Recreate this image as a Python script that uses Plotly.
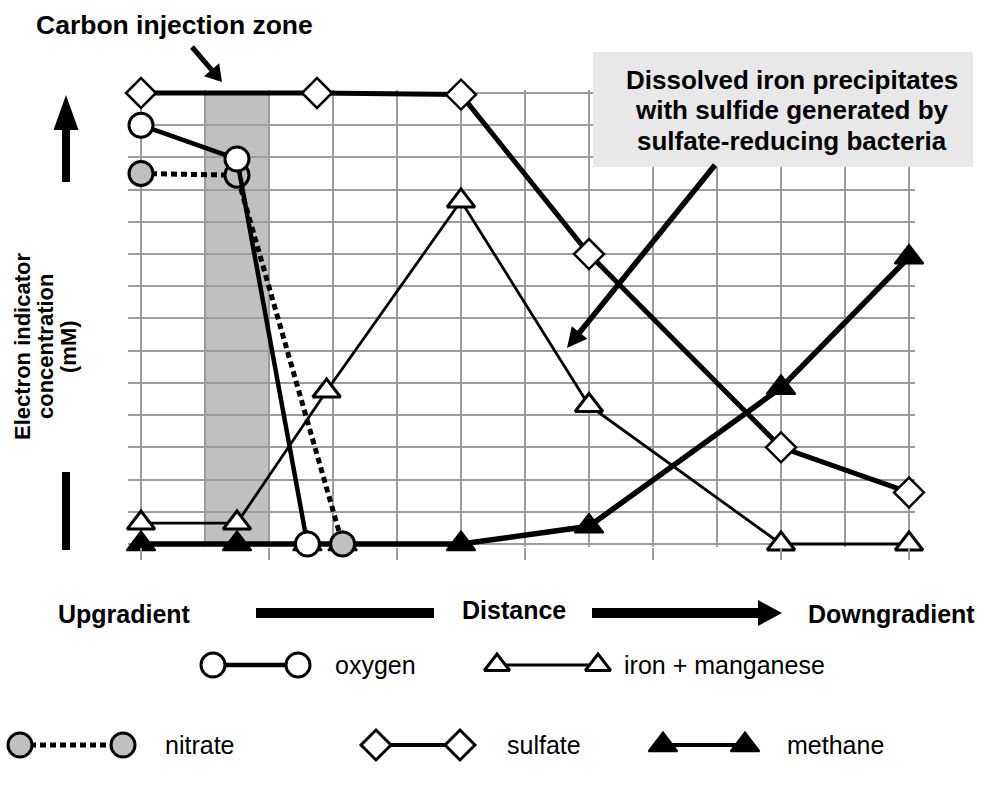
import math
import plotly.graph_objects as go

W, H = 986, 788

# distance along the flow path (grid units) and concentration (grid units)
oxygen_x = [0, 1.5, 2.6]
oxygen_y = [13, 11.95, 0]
nitrate_x = [0, 1.5, 3.15]
nitrate_y = [11.5, 11.45, 0]
iron_x = [0, 1.5, 2.9, 5, 7, 10, 12]
iron_y = [0.65, 0.65, 4.75, 10.65, 4.3, 0, 0]
sulfate_x = [0, 2.75, 5, 7, 10, 12]
sulfate_y = [14, 14, 13.95, 9, 3, 1.6]
methane_x = [0, 1.5, 2.6, 3.15, 5, 7, 10, 12]
methane_y = [0, 0, 0, 0, 0, 0.55, 4.85, 8.9]

injection_zone = [1, 2]
x_range = [-0.2, 12.1]
y_range = [-0.1, 14.1]

box_lines = ["Dissolved iron precipitates",
             "with sulfide generated by",
             "sulfate-reducing bacteria"]
ytitle_lines = ["Electron indicator", "concentration", "(mM)"]

GRID = "#9c9c9c"
FONT = "Arial, Liberation Sans, sans-serif"

# pixel geometry of the grid: x=0 -> 141px, x=12 -> 909px ; y=0 -> 544px, y=14 -> 93px
X0, XU = 141, 64.0
Y0, YU = 544, 451 / 14.0


def px(x):
    return x / W


def py(y):
    return 1 - y / H


def arrow(x0, y0, x1, y1, width, head_len=0, head_w=0):
    """thick line with a filled triangular head at (x1, y1), pixel coords"""
    dx, dy = x1 - x0, y1 - y0
    L = math.hypot(dx, dy)
    ux, uy = dx / L, dy / L
    bx, by = x1 - ux * head_len, y1 - uy * head_len
    ex, ey = (bx + ux, by + uy) if head_len else (x1, y1)
    out = [dict(type="line", xref="paper", yref="paper",
                x0=px(x0), y0=py(y0), x1=px(ex), y1=py(ey),
                line=dict(color="black", width=width), layer="above")]
    if head_len:
        nx, ny = -uy, ux
        p = "M {},{} L {},{} L {},{} Z".format(
            px(x1), py(y1),
            px(bx + nx * head_w / 2), py(by + ny * head_w / 2),
            px(bx - nx * head_w / 2), py(by - ny * head_w / 2))
        out.append(dict(type="path", xref="paper", yref="paper", path=p,
                        fillcolor="black", line=dict(width=0), layer="above"))
    return out


fig = go.Figure()

# data series (bottom to top)
fig.add_trace(go.Scatter(x=methane_x, y=methane_y, mode="lines+markers", name="methane",
                         line=dict(color="black", width=5.5),
                         marker=dict(symbol="triangle-up", size=25, color="black",
                                     line=dict(color="black", width=2)),
                         cliponaxis=False))
fig.add_trace(go.Scatter(x=iron_x, y=iron_y, mode="lines+markers", name="iron + manganese",
                         line=dict(color="black", width=2.8),
                         marker=dict(symbol="triangle-up", size=24, color="white",
                                     line=dict(color="black", width=3)),
                         cliponaxis=False))
fig.add_trace(go.Scatter(x=sulfate_x, y=sulfate_y, mode="lines+markers", name="sulfate",
                         line=dict(color="black", width=5),
                         marker=dict(symbol="diamond", size=23, color="white",
                                     line=dict(color="black", width=2.5)),
                         cliponaxis=False))
fig.add_trace(go.Scatter(x=nitrate_x, y=nitrate_y, mode="lines+markers", name="nitrate",
                         line=dict(color="black", width=5, dash="6px,4px"),
                         marker=dict(symbol="circle", size=24, color="#c0c0c0",
                                     line=dict(color="black", width=3)),
                         cliponaxis=False))
fig.add_trace(go.Scatter(x=oxygen_x, y=oxygen_y, mode="lines+markers", name="oxygen",
                         line=dict(color="black", width=4.5),
                         marker=dict(symbol="circle", size=24, color="white",
                                     line=dict(color="black", width=3)),
                         cliponaxis=False))

# legend samples drawn on a hidden full-figure pixel axis
legend_items = [
    # (y, x_left, x_right, text_x, name, symbol, fill, size, lw, dash)
    (665, 213, 298, 333, "oxygen", "circle", "white", 24, 4.5, None),
    (665, 497, 598, 622, "iron + manganese", "triangle-up", "white", 22, 2.8, None),
    (745, 20, 123, 163, "nitrate", "circle", "#c0c0c0", 24, 5, "6px,4px"),
    (745, 376, 460, 505, "sulfate", "diamond", "white", 23, 4, None),
    (745, 663, 745, 785, "methane", "triangle-up", "black", 25, 4, None),
]
annotations = []
for ly, xl, xr, tx, name, sym, fill, size, lw, dash in legend_items:
    fig.add_trace(go.Scatter(x=[xl, xr], y=[ly, ly], xaxis="x2", yaxis="y2",
                             mode="lines+markers", showlegend=False, cliponaxis=False,
                             line=dict(color="black", width=lw, dash=dash),
                             marker=dict(symbol=sym, size=size, color=fill,
                                         line=dict(color="black", width=3 if fill != "black" else 2))))
    annotations.append(dict(x=px(tx), y=py(ly), xref="paper", yref="paper", text=name,
                            showarrow=False, xanchor="left", yanchor="middle",
                            font=dict(size=25, color="black", family=FONT)))

shapes = [dict(type="rect", xref="x", yref="y", x0=injection_zone[0], x1=injection_zone[1],
               y0=0, y1=14, fillcolor="#c0c0c0", line=dict(width=0), layer="below")]

# callout box
shapes.append(dict(type="rect", xref="paper", yref="paper", x0=px(593), x1=px(973),
                   y0=py(167), y1=py(52), fillcolor="#e8e8e8", line=dict(width=0), layer="above"))
for i, t in enumerate(box_lines):
    annotations.append(dict(x=px(792), y=py(80 + 30.5 * i), xref="paper", yref="paper", text="<b>%s</b>" % t,
                            showarrow=False, xanchor="center", yanchor="middle",
                            font=dict(size=26, color="black", family=FONT)))

shapes += arrow(715, 165, 567, 348, 5.5, 20, 20)
shapes += arrow(192, 47, 222, 82, 5, 16, 20)

annotations.append(dict(x=px(174), y=py(25), xref="paper", yref="paper", text="<b>Carbon injection zone</b>",
                        showarrow=False, xanchor="center", yanchor="middle",
                        font=dict(size=26.5, color="black", family=FONT)))

# y axis title with arrow
for i, t in enumerate(ytitle_lines):
    annotations.append(dict(x=px(22 + 23 * i), y=py(347), xref="paper", yref="paper", text="<b>%s</b>" % t,
                            showarrow=False, xanchor="center", yanchor="middle", textangle=-90,
                            font=dict(size=22, color="black", family=FONT)))
shapes += arrow(66, 182, 66, 95, 8, 35, 25)
shapes += arrow(66, 472, 66, 550, 8)

# distance axis
shapes += arrow(256, 613, 434, 613, 10)
shapes += arrow(592, 613, 782, 613, 10, 24, 26)
for tx, ty, t in [(124, 614, "Upgradient"), (514, 610, "Distance"), (891, 614, "Downgradient")]:
    annotations.append(dict(x=px(tx), y=py(ty), xref="paper", yref="paper", text="<b>%s</b>" % t,
                            showarrow=False, xanchor="center", yanchor="middle",
                            font=dict(size=25, color="black", family=FONT)))

fig.update_layout(
    width=W, height=H,
    margin=dict(l=0, r=0, t=0, b=0),
    paper_bgcolor="white", plot_bgcolor="rgba(0,0,0,0)",
    showlegend=False,
    font=dict(family=FONT, color="black"),
    xaxis=dict(domain=[px(X0 + x_range[0] * XU), px(X0 + x_range[1] * XU)], range=x_range,
               tick0=0, dtick=2, showgrid=True, gridcolor=GRID, gridwidth=1.6, zeroline=False,
               showticklabels=False, ticks="outside", ticklen=12, tickcolor=GRID, tickwidth=1.6,
               minor=dict(dtick=1, tick0=0, showgrid=True, gridcolor=GRID, gridwidth=1.6),
               showline=False),
    yaxis=dict(domain=[py(Y0 - y_range[0] * YU), py(Y0 - y_range[1] * YU)], range=y_range,
               tick0=0, dtick=1, showgrid=True, gridcolor=GRID, gridwidth=1.6, zeroline=False,
               showticklabels=False, ticks="", showline=False),
    xaxis2=dict(domain=[0, 1], range=[0, W], visible=False, anchor="y2"),
    yaxis2=dict(domain=[0, 1], range=[H, 0], visible=False, anchor="x2"),
    shapes=shapes,
    annotations=annotations,
)

fig.write_html("out.html", config={"displayModeBar": False},
               post_script="document.body.style.margin='0';")
